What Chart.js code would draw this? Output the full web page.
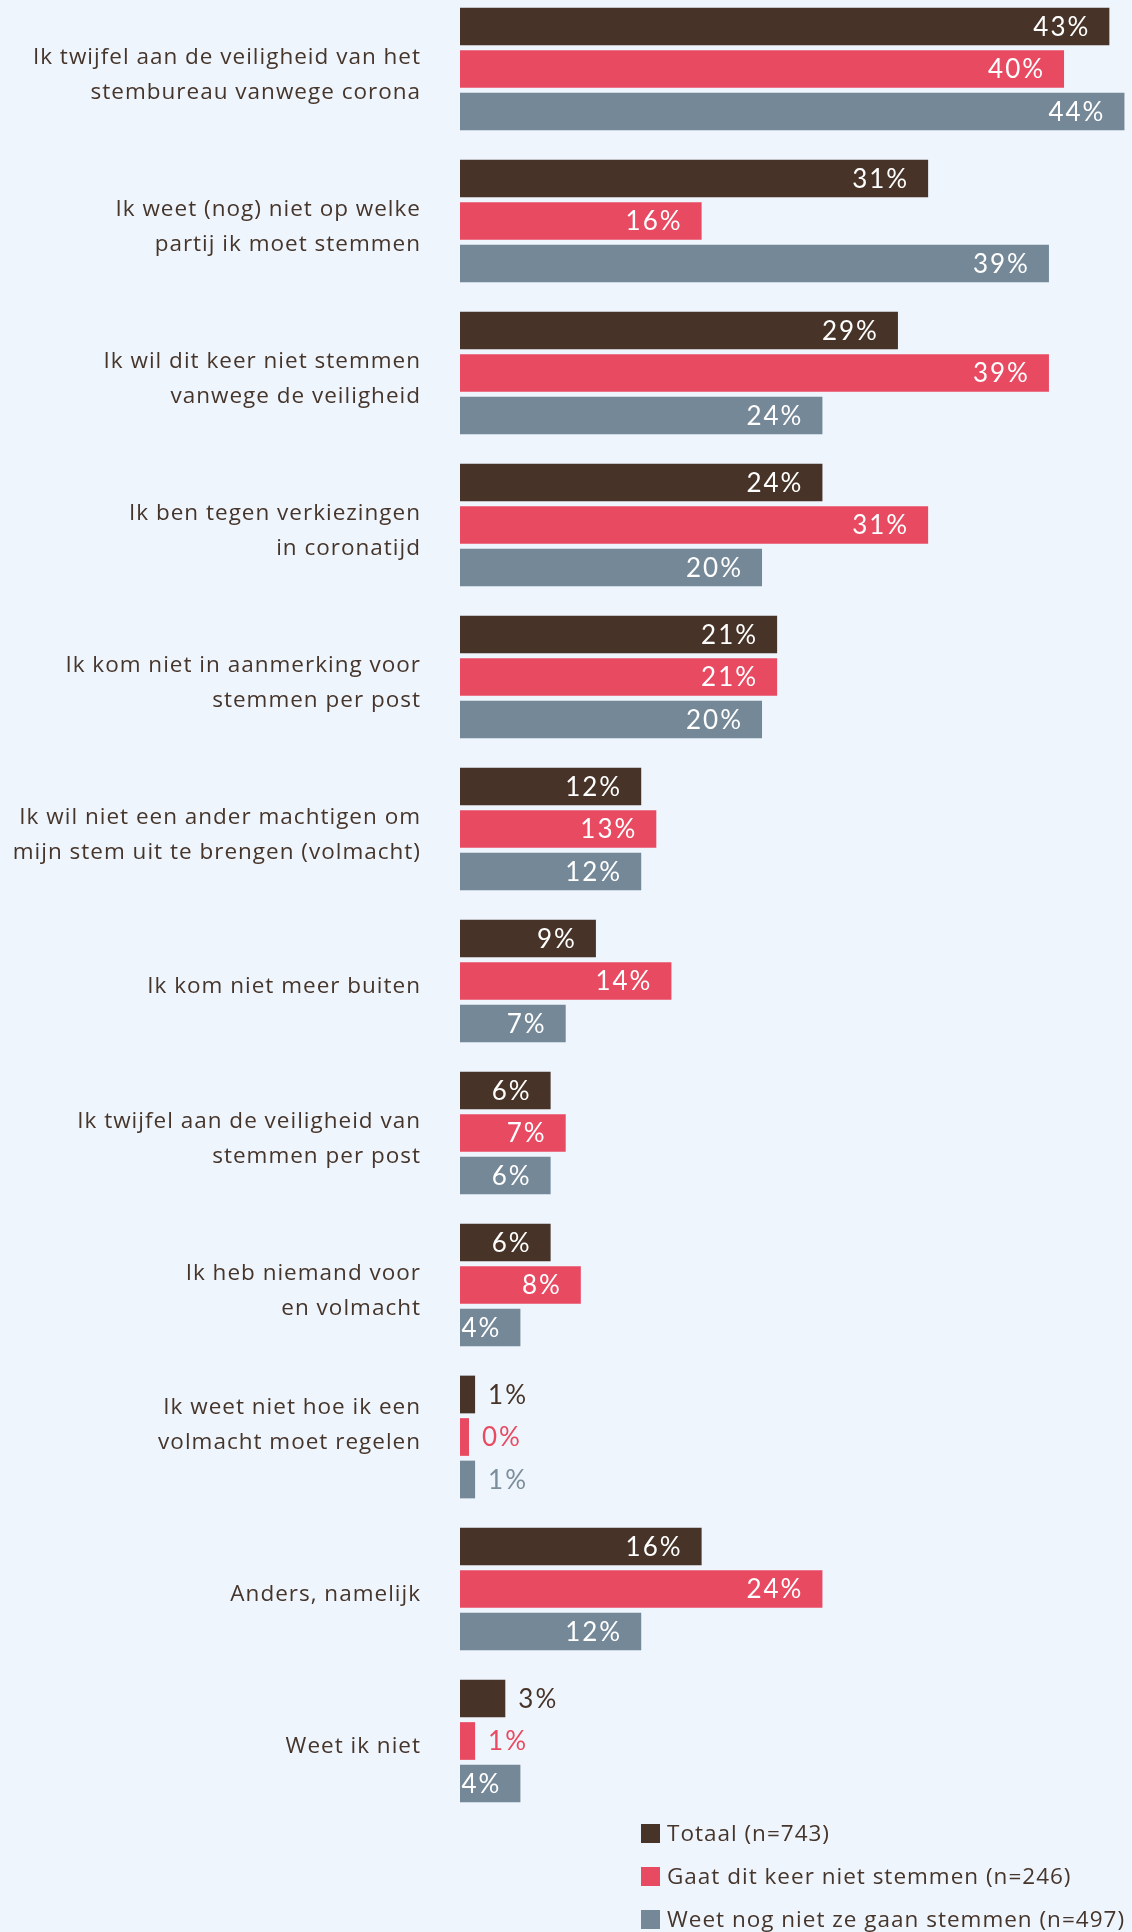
<!DOCTYPE html>
<html lang="nl">
<head>
<meta charset="utf-8">
<title>Redenen om niet te stemmen</title>
<script src="https://cdn.jsdelivr.net/npm/chart.js@4/dist/chart.umd.min.js"></script>
<style>
    html, body {
        margin: 0;
        padding: 0;
        background: #eef5fc;
        overflow: hidden;
    }
    #wrap {
        position: absolute;
        left: 0;
        top: -7px;
        width: 1132px;
        height: 1939px;
    }
</style>
</head>
<body>
<div id="wrap"><canvas id="chart"></canvas></div>
<script>
// ---- data ----
const categories = [
    ["Ik twijfel aan de veiligheid van het", "stembureau vanwege corona"],
    ["Ik weet (nog) niet op welke", "partij ik moet stemmen"],
    ["Ik wil dit keer niet stemmen", "vanwege de veiligheid"],
    ["Ik ben tegen verkiezingen", "in coronatijd"],
    ["Ik kom niet in aanmerking voor", "stemmen per post"],
    ["Ik wil niet een ander machtigen om", "mijn stem uit te brengen (volmacht)"],
    "Ik kom niet meer buiten",
    ["Ik twijfel aan de veiligheid van", "stemmen per post"],
    ["Ik heb niemand voor", "en volmacht"],
    ["Ik weet niet hoe ik een", "volmacht moet regelen", ""],
    "Anders, namelijk",
    "Weet ik niet"
];

const seriesNames = [
    "Totaal (n=743)",
    "Gaat dit keer niet stemmen (n=246)",
    "Weet nog niet ze gaan stemmen (n=497)"
];

const totaal = [43, 31, 29, 24, 21, 12, 9, 6, 6, 1, 16, 3];
const gaatNiet = [40, 16, 39, 31, 21, 13, 14, 7, 8, 0, 24, 1];
const weetNog = [44, 39, 24, 20, 20, 12, 7, 6, 4, 1, 12, 4];

const seriesColors = ["#473327", "#e84a62", "#758898"];
const outsideColors = ["#473327", "#e84a62", "#7b8e9c"];

const textColor = "#46352b";
const labelFont = "'Open Sans', 'Noto Sans', sans-serif";
const valueFont = "Lato, 'Noto Sans', sans-serif";

// letter spacing voor de labels aan de y-as (canvas-eigenschap)
const spacingPlugin = {
    id: "labelSpacing",
    beforeDraw(chart) {
        chart.ctx.letterSpacing = "1px";
    }
};

// ---- waarden op de balken ----
const valueLabelPlugin = {
    id: "valueLabels",
    afterDatasetsDraw(chart) {
        const ctx = chart.ctx;
        ctx.save();
        ctx.letterSpacing = "2px";
        ctx.font = "26px " + valueFont;
        ctx.textBaseline = "middle";
        chart.data.datasets.forEach((ds, di) => {
            const meta = chart.getDatasetMeta(di);
            meta.data.forEach((bar, i) => {
                const v = ds.data[i];
                const txt = v + "%";
                const barEnd = Math.max(bar.x, bar.base + 9);
                if (v >= 4) {
                    ctx.fillStyle = "#ffffff";
                    ctx.textAlign = "right";
                    ctx.fillText(txt, barEnd - 19, bar.y + 1);
                } else {
                    ctx.fillStyle = outsideColors[di];
                    ctx.textAlign = "left";
                    ctx.fillText(txt, barEnd + 13, bar.y + 1);
                }
            });
        });
        ctx.restore();
    }
};

// ---- legenda onderaan ----
const legendPlugin = {
    id: "stackedLegend",
    afterDraw(chart) {
        const ctx = chart.ctx;
        const x0 = 641;
        const y0 = 1831;   // canvas coords (page + 7)
        const step = 43;
        const box = 19;
        ctx.save();
        ctx.letterSpacing = "1px";
        ctx.font = "22.5px " + labelFont;
        ctx.textBaseline = "middle";
        ctx.textAlign = "left";
        chart.data.datasets.forEach((ds, di) => {
            const y = y0 + di * step;
            ctx.fillStyle = ds.backgroundColor;
            ctx.fillRect(x0, y, box, box);
            ctx.fillStyle = textColor;
            ctx.fillText(ds.label, x0 + 26, y + box / 2 + 1);
        });
        ctx.restore();
    }
};

const ctx = document.getElementById("chart").getContext("2d");

new Chart(ctx, {
    type: "bar",
    data: {
        labels: categories,
        datasets: [
            { label: seriesNames[0], data: totaal, backgroundColor: seriesColors[0] },
            { label: seriesNames[1], data: gaatNiet, backgroundColor: seriesColors[1] },
            { label: seriesNames[2], data: weetNog, backgroundColor: seriesColors[2] }
        ]
    },
    options: {
        indexAxis: "y",
        responsive: true,
        maintainAspectRatio: false,
        animation: false,
        layout: {
            padding: { top: 0, right: 0, bottom: 115, left: 0 }
        },
        datasets: {
            bar: {
                categoryPercentage: 0.839,
                barPercentage: 0.887,
                minBarLength: 9,
                borderWidth: 0
            }
        },
        plugins: {
            legend: { display: false },
            tooltip: { enabled: false }
        },
        scales: {
            x: {
                display: false,
                min: 0,
                max: 44.5
            },
            y: {
                grid: { display: false, drawTicks: false },
                border: { display: false },
                ticks: {
                    color: textColor,
                    padding: 39,
                    labelOffset: 6,
                    font: { family: labelFont, size: 22.5, lineHeight: 1.56 }
                },
                afterFit(scale) {
                    scale.width = 460;
                    scale.paddingTop = 0;
                    scale.paddingBottom = 0;
                }
            }
        }
    },
    plugins: [spacingPlugin, valueLabelPlugin, legendPlugin]
});
</script>
</body>
</html>
